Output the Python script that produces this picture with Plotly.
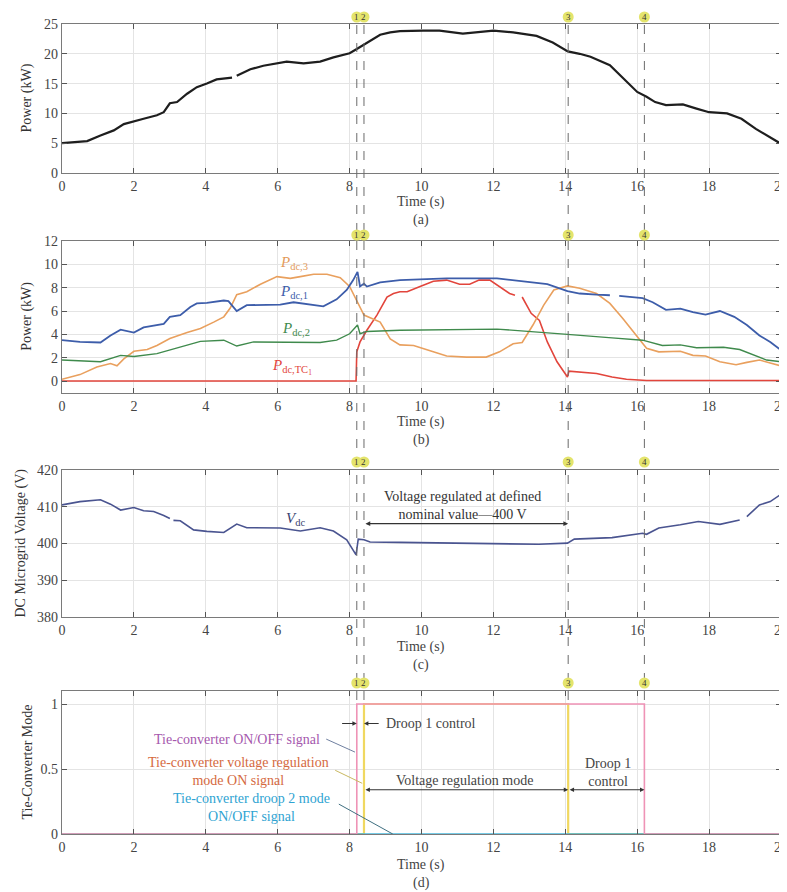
import plotly.graph_objects as go

# ---------------- data ----------------
event_times = [8.2, 8.4, 14.08, 16.2]
event_labels = ["1", "2", "3", "4"]

# (a) load power (kW)
t_load = [0, 0.7, 1.07, 1.44, 1.72, 2.0, 2.27, 2.64, 2.83, 3.0, 3.2, 3.48, 3.75, 4.03, 4.3, 4.73, None,
          4.86, 5.24, 5.6, 5.98, 6.25, 6.72, 7.18, 7.55, 8.0, 8.2, 8.48, 8.85, 9.13, 9.4, 10.05, 10.5,
          11.15, 12.0, 12.55, 13.2, 13.65, 14.07, 14.4, 14.7, 15.24, 15.6, 16.0, 16.26, 16.5, 16.8,
          17.27, 17.65, 18.0, 18.5, 18.9, 19.3, 20.0]
p_load = [5.0, 5.35, 6.3, 7.15, 8.2, 8.6, 9.1, 9.7, 10.2, 11.7, 11.9, 13.3, 14.4, 15.0, 15.7, 16.0, None,
          16.3, 17.4, 18.0, 18.4, 18.7, 18.4, 18.7, 19.4, 20.1, 20.8, 21.8, 23.2, 23.6, 23.8, 23.9, 23.9,
          23.4, 23.9, 23.6, 23.0, 21.9, 20.4, 20.0, 19.5, 18.1, 15.9, 13.6, 12.8, 11.9, 11.4,
          11.5, 10.8, 10.2, 10.0, 9.1, 7.4, 4.9]

# (b) converter powers (kW)
t_p1 = [0, 0.5, 1.07, 1.35, 1.63, 2.0, 2.27, 2.64, 2.83, 3.0, 3.29, 3.57, 3.75, 4.03, 4.5, 4.63, 4.86,
        5.14, 5.7, 6.07, 6.44, 6.9, 7.27, 7.64, 7.92, 8.1, 8.22, 8.29, 8.4, 8.48, 8.85, 9.4, 9.78, 10.7,
        12.1, 13.05, 13.5, 14.06, 14.4, 14.87, 15.24, None, 15.5, 16.15, 16.43, 16.8, 17.2, 17.55, 17.9,
        18.3, 18.7, 19.05, 19.4, 19.7, 20.0]
p_dc1 = [3.5, 3.35, 3.3, 3.9, 4.4, 4.15, 4.6, 4.8, 4.9, 5.5, 5.65, 6.35, 6.65, 6.7, 6.9, 6.85, 6.0,
         6.5, 6.5, 6.55, 6.75, 6.55, 6.4, 7.0, 7.8, 8.65, 9.35, 8.1, 8.35, 8.1, 8.45, 8.65, 8.7, 8.8,
         8.8, 8.5, 8.3, 7.7, 7.5, 7.4, 7.35, None, 7.3, 7.1, 6.75, 6.1, 6.2, 5.9, 5.7,
         6.0, 5.5, 4.8, 3.9, 3.35, 2.65]

t_p2 = [0, 1.07, 1.63, 2.0, 2.64, 3.2, 3.85, 4.5, 4.86, 5.33, 6.07, 7.18, 7.64, 8.0, 8.22, 8.29, 8.48,
        9.4, 12.1, 13.05, 14.06, 15.3, 16.15, 16.7, 17.2, 17.65, 18.4, 18.85, 19.2, 19.6, 20.0]
p_dc2 = [1.8, 1.65, 2.2, 2.1, 2.35, 2.85, 3.4, 3.5, 3.0, 3.35, 3.35, 3.3, 3.5, 4.05, 4.8, 4.05, 4.25,
         4.35, 4.45, 4.25, 4.0, 3.7, 3.5, 3.05, 3.1, 2.85, 2.9, 2.7, 2.25, 1.8, 1.65]

t_p3 = [0, 0.5, 0.97, 1.35, 1.53, 1.72, 2.0, 2.37, 2.64, 3.0, 3.48, 3.85, 4.22, 4.5, 4.68, 4.86, 5.14,
        5.52, 5.98, 6.35, 6.63, 7.0, 7.37, 7.74, 8.0, 8.2, 8.4, 8.85, 9.13, 9.4, 9.78, 10.24, 10.7,
        11.25, 11.8, 12.17, 12.55, 12.8, 13.1, 13.4, 13.68, 14.06, 14.4, 14.87, 15.24, 15.6, 15.9,
        16.26, 16.6, 17.2, 17.55, 17.9, 18.3, 18.75, 19.05, 19.4, 19.7, 20.0]
p_dc3 = [0.15, 0.55, 1.2, 1.5, 1.3, 1.9, 2.55, 2.7, 3.05, 3.65, 4.15, 4.5, 5.05, 5.5, 6.25, 7.4, 7.65,
         8.3, 8.95, 8.8, 8.95, 9.15, 9.15, 8.85, 8.1, 6.8, 5.65, 5.05, 3.6, 3.1, 3.05, 2.6, 2.15,
         2.05, 2.05, 2.5, 3.2, 3.3, 4.8, 6.5, 7.8, 8.15, 7.95, 7.5, 6.65, 5.35, 4.2,
         2.8, 2.5, 2.55, 2.2, 2.15, 1.65, 1.4, 1.6, 1.8, 1.55, 1.3]

t_tc = [0, 8.18, 8.2, 8.29, 8.48, 8.76, 9.04, 9.22, 9.4, 9.6, 9.96, 10.33, 10.7, 11.06, 11.34, 11.6,
        11.9, 12.17, 12.45, 12.6, None, 12.8, 13.05, 13.28, 13.5, 13.77, 14.06, 14.1, 14.87, 15.3,
        15.7, 16.26, 20.0]
p_tc = [0, 0, 2.5, 3.35, 4.35, 5.65, 7.2, 7.5, 7.65, 7.65, 8.1, 8.55, 8.65, 8.3, 8.3, 8.65,
        8.65, 8.1, 7.5, 7.35, None, 7.2, 5.8, 5.2, 3.35, 1.65, 0.35, 0.85, 0.65, 0.35,
        0.15, 0.05, 0.05]

# (c) DC microgrid voltage (V)
t_v = [0, 0.5, 1.07, 1.35, 1.63, 2.0, 2.27, 2.55, 2.83, 3.0, None, 3.1, 3.29, 3.66, 4.03, 4.5, 4.86,
       5.14, 5.52, 6.07, 6.63, 7.18, 7.55, 7.92, 8.18, 8.24, 8.4, 8.57, 9.4, 11.6, 13.26, 14.06, 14.25,
       15.3, 16.15, 16.26, 16.6, 17.2, 17.7, 18.3, 18.85, None, 19.05, 19.4, 19.7, 20.0]
v_dc = [410.5, 411.4, 411.9, 410.7, 409.1, 409.8, 408.9, 408.7, 407.6, 406.8, None, 406.3, 406.2,
        403.7, 403.3, 403.0, 405.3, 404.3, 404.2, 404.2, 403.4, 404.3, 403.4, 401.0, 396.9, 401.2,
        401.0, 400.4, 400.3, 400.1, 399.8, 400.1, 401.2, 401.6, 402.8, 402.5, 404.2, 405.1, 406.0,
        405.2, 406.4, None, 407.3, 410.5, 411.4, 413.4]

# (d) tie-converter mode signals
t_sig_onoff = [0, 8.2, 8.2, 16.2, 16.2, 20]
sig_onoff = [0, 0, 1, 1, 0, 0]
t_sig_vreg = [0, 8.4, 8.4, 14.08, 14.08, 20]
sig_vreg = [0, 0, 1, 1, 0, 0]
t_sig_droop2 = [0, 20]
sig_droop2 = [0, 0]

# ---------------- layout helpers ----------------
OFF = 8                      # page body margin
W, H = 787 - OFF, 892 - OFF  # figure size
X0, X1 = 62, 781             # plot area in reference pixels
panels = [  # (top px, bottom px, y range, tick values)
    (24, 173, [0, 25], [0, 5, 10, 15, 20, 25]),
    (241, 392.7, [-1, 12], [0, 2, 4, 6, 8, 10, 12]),
    (470, 617, [380, 420], [380, 390, 400, 410, 420]),
    (691, 834, [0, 1.1], [0, 0.5, 1]),
]
marker_py = [17, 235, 462, 683]
time_off = [29, 29, 30, 31]
lab_off = [47, 47, 48, 49]
ytitles = ["Power (kW)", "Power (kW)", "DC Microgrid Voltage (V)", "Tie-Converter Mode"]
ytitle_x = [27, 27, 20, 27]
sub_labels = ["(a)", "(b)", "(c)", "(d)"]

SERIF = "Liberation Serif, Times New Roman, serif"
TXT = "#444444"
FS = 14


def py(p):
    return 1 - (p - OFF) / H


def px(p):
    return (p - OFF) / W


fig = go.Figure()

fig.add_trace(go.Scatter(x=t_load, y=p_load, mode="lines", line=dict(color="#1e1e1e", width=2.2),
                         xaxis="x", yaxis="y"))

fig.add_trace(go.Scatter(x=t_tc, y=p_tc, mode="lines", line=dict(color="#e2453c", width=1.6),
                         xaxis="x2", yaxis="y2"))
fig.add_trace(go.Scatter(x=t_p3, y=p_dc3, mode="lines", line=dict(color="#e9a05e", width=1.6),
                         xaxis="x2", yaxis="y2"))
fig.add_trace(go.Scatter(x=t_p2, y=p_dc2, mode="lines", line=dict(color="#3f8a4c", width=1.4),
                         xaxis="x2", yaxis="y2"))
fig.add_trace(go.Scatter(x=t_p1, y=p_dc1, mode="lines", line=dict(color="#3d5daa", width=1.8),
                         xaxis="x2", yaxis="y2"))

fig.add_trace(go.Scatter(x=t_v, y=v_dc, mode="lines", line=dict(color="#4a5490", width=1.6),
                         xaxis="x3", yaxis="y3"))

fig.add_trace(go.Scatter(x=t_sig_vreg, y=sig_vreg, mode="lines", line=dict(color="#f0d860", width=2.2),
                         xaxis="x4", yaxis="y4"))
fig.add_trace(go.Scatter(x=t_sig_droop2, y=sig_droop2, mode="lines", line=dict(color="#49b8dc", width=1.6),
                         xaxis="x4", yaxis="y4"))
fig.add_trace(go.Scatter(x=t_sig_onoff, y=sig_onoff, mode="lines", line=dict(color="#ef93b6", width=1.6),
                         xaxis="x4", yaxis="y4"))

layout = dict(
    width=W, height=H, autosize=False,
    margin=dict(l=0, r=0, t=0, b=0),
    paper_bgcolor="white", plot_bgcolor="white",
    showlegend=False,
    font=dict(family=SERIF, size=FS, color=TXT),
)

for i, (top, bot, yr, tv) in enumerate(panels):
    suf = "" if i == 0 else str(i + 1)
    layout["xaxis" + suf] = dict(
        domain=[px(X0), px(X1)], range=[0, 20], anchor="y" + suf,
        tickvals=list(range(0, 21, 2)), ticks="inside", ticklen=5, tickcolor="#555",
        showline=True, linecolor="#7a7a7a", linewidth=1.3, mirror="ticks",
        showgrid=True, gridcolor="#e4e4e4", gridwidth=1, zeroline=False,
        ticklabeloverflow="allow",
        tickfont=dict(family=SERIF, size=FS, color=TXT), automargin=False, fixedrange=True)
    layout["yaxis" + suf] = dict(
        domain=[py(bot), py(top)], range=yr, anchor="x" + suf,
        tickvals=tv, ticks="inside", ticklen=5, tickcolor="#555",
        showline=True, linecolor="#7a7a7a", linewidth=1.3, mirror="ticks",
        showgrid=True, gridcolor="#e4e4e4", gridwidth=1, zeroline=False,
        ticklabeloverflow="allow",
        tickfont=dict(family=SERIF, size=FS, color=TXT), automargin=False, fixedrange=True)

fig.update_layout(**layout)


def ann(**kw):
    d = dict(showarrow=False, xanchor="center", yanchor="middle")
    d.update(kw)
    return d


annotations = []
xmid = 0.5 * (px(X0) + px(X1))
for i, (top, bot, yr, tv) in enumerate(panels):
    annotations.append(ann(x=xmid, y=py(bot + time_off[i]), xref="paper", yref="paper",
                           text="Time (s)", font=dict(family=SERIF, size=FS, color=TXT)))
    annotations.append(ann(x=xmid, y=py(bot + lab_off[i]), xref="paper", yref="paper",
                           text=sub_labels[i], font=dict(family=SERIF, size=FS, color=TXT)))
    annotations.append(ann(x=px(ytitle_x[i]), y=py(0.5 * (top + bot)), xref="paper", yref="paper",
                           text=ytitles[i], textangle=-90, font=dict(family=SERIF, size=FS, color="#333")))
    for te, lab in zip(event_times, event_labels):
        annotations.append(ann(x=te, y=py(marker_py[i]), xref="x", yref="paper", text=lab,
                               font=dict(family=SERIF, size=9, color="#333")))

# series labels in (b)
for txt, tx, ty, col in [
    ("<i>P</i><sub>dc,3</sub>", 6.45, 10.1, "#e39a5a"),
    ("<i>P</i><sub>dc,1</sub>", 6.45, 7.65, "#3d5daa"),
    ("<i>P</i><sub>dc,2</sub>", 6.5, 4.45, "#3f8a4c"),
    ("<i>P</i><sub>dc,TC<sub>1</sub></sub>", 6.4, 1.2, "#e2453c"),
]:
    annotations.append(ann(x=tx, y=ty, xref="x2", yref="y2", text=txt,
                           font=dict(family=SERIF, size=15, color=col)))

# (c) annotations
annotations.append(ann(x=6.5, y=406.7, xref="x3", yref="y3", text="<i>V</i><sub>dc</sub>",
                       font=dict(family=SERIF, size=15, color="#3a3f70")))
annotations.append(ann(x=11.15, y=410.3, xref="x3", yref="y3",
                       text="Voltage regulated at defined<br>nominal value\u2014400 V",
                       font=dict(family=SERIF, size=FS, color="#333")))
annotations.append(dict(x=event_times[2], y=405.4, ax=event_times[1], ay=405.4, xref="x3", yref="y3",
                        axref="x3", ayref="y3", text="", showarrow=True, arrowhead=2, arrowsize=0.8,
                        arrowwidth=1.2, arrowcolor="#333", arrowside="end+start"))

# (d) annotations
arrow_kw = dict(xref="x4", yref="y4", axref="x4", ayref="y4", text="", showarrow=True,
                arrowhead=2, arrowsize=0.8, arrowwidth=1.1, arrowcolor="#333")
annotations += [
    dict(x=event_times[0], y=0.85, ax=7.75, ay=0.85, **arrow_kw),
    dict(x=event_times[1], y=0.85, ax=8.85, ay=0.85, **arrow_kw),
    ann(x=8.95, y=0.85, xref="x4", yref="y4", text="Droop 1 control", xanchor="left",
        font=dict(family=SERIF, size=FS, color="#444")),
    dict(x=event_times[2], y=0.34, ax=event_times[1], ay=0.34, arrowside="end+start", **arrow_kw),
    ann(x=11.2, y=0.41, xref="x4", yref="y4", text="Voltage regulation mode",
        font=dict(family=SERIF, size=FS, color="#444")),
    dict(x=event_times[3], y=0.34, ax=event_times[2], ay=0.34, arrowside="end+start", **arrow_kw),
    ann(x=15.2, y=0.47, xref="x4", yref="y4", text="Droop 1<br>control",
        font=dict(family=SERIF, size=FS, color="#444")),
    ann(x=4.86, y=0.73, xref="x4", yref="y4", text="Tie-converter ON/OFF signal",
        font=dict(family=SERIF, size=FS, color="#a557ad")),
    ann(x=4.9, y=0.48, xref="x4", yref="y4", text="Tie-converter voltage regulation<br>mode ON signal",
        font=dict(family=SERIF, size=FS, color="#d5693e")),
    ann(x=5.28, y=0.205, xref="x4", yref="y4", text="Tie-converter droop 2 mode<br>ON/OFF signal",
        font=dict(family=SERIF, size=FS, color="#2ea3d2")),
]
fig.update_layout(annotations=annotations)

shapes = []
# dashed event lines across panels
for te in event_times:
    shapes.append(dict(type="line", xref="x", yref="paper", x0=te, x1=te, y0=py(700), y1=py(21),
                       line=dict(color="#6a6a6a", width=1, dash="dash"), layer="above"))
# yellow event badges
for mp in marker_py:
    for te in event_times:
        shapes.append(dict(type="circle", xref="x", yref="paper", xsizemode="pixel", ysizemode="pixel",
                           xanchor=te, yanchor=py(mp), x0=-5.5, x1=5.5, y0=-5.5, y1=5.5,
                           fillcolor="#e4e46c", line=dict(width=0), layer="above"))
# pointer lines in (d)
shapes += [
    dict(type="line", xref="x4", yref="y4", x0=7.35, y0=0.73, x1=8.15, y1=0.63,
         line=dict(color="#6f7fa0", width=1)),
    dict(type="line", xref="x4", yref="y4", x0=7.6, y0=0.49, x1=8.35, y1=0.39,
         line=dict(color="#c9b860", width=1)),
    dict(type="line", xref="x4", yref="y4", x0=7.7, y0=0.23, x1=9.2, y1=0.0,
         line=dict(color="#3f6f80", width=1)),
]
fig.update_layout(shapes=shapes)

fig.write_html("out.html")
